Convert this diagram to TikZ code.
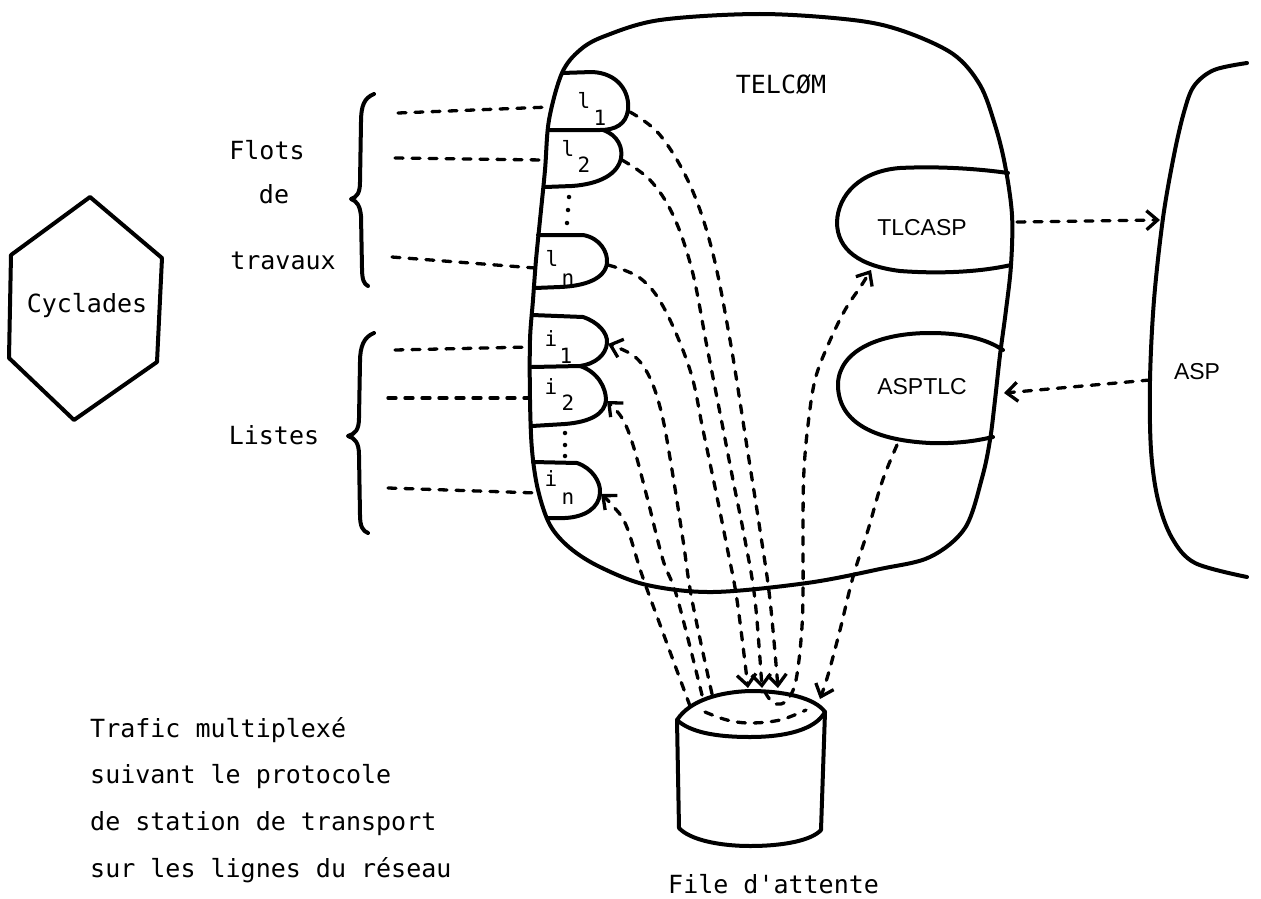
\documentclass[tikz,border=0pt]{standalone}
\usepackage{fontspec}
\newfontfamily\typew{DejaVu Sans Mono}
\newfontfamily\helv{Liberation Sans}
\usetikzlibrary{arrows.meta}
\begin{document}
\begin{tikzpicture}[x=1pt,y=-1pt,
  outl/.style={line width=4pt,line join=round,line cap=round},
  dl/.style={line width=3.3pt,line cap=round,dash pattern=on 8pt off 9pt},
  barb/.style={-{Straight Barb[length=11pt,width=19pt,line width=3.3pt]}},
  mono/.style={font=\typew\fontsize{25}{30}\selectfont,inner sep=0pt},
  lab/.style={font=\typew\fontsize{21}{25}\selectfont,inner sep=0pt},
  sans/.style={font=\helv\fontsize{23}{28}\selectfont,inner sep=0pt},
  dotm/.style={circle,fill,inner sep=0pt,minimum size=4.5pt}]
\useasboundingbox (0,0) rectangle (1261,899);

% ---------- Cyclades ----------
\draw[outl] (90,197) -- (162,258) -- (157,362) -- (74,420) -- (9,358) -- (11,255) -- cycle;
\node[mono] (cyc) at (87,306) {Cyclades};

% ---------- left labels and braces ----------
\node[mono] (flots) at (267,150) {Flots};
\node[mono] (de) at (274,194) {de};
\node[mono] (trav) at (283,261) {travaux};
\node[mono] (listes) at (274,435) {Listes};
\draw[outl] (374,94) .. controls (364,98) and (361,106) .. (361,122) -- (360,182)
  .. controls (360,193) and (357,197) .. (351,199) .. controls (357,201) and (360,206) .. (361,216)
  -- (362,268) .. controls (362,280) and (364,284) .. (368,286);
\draw[outl] (374,333) .. controls (364,337) and (360,346) .. (360,362) -- (359,418)
  .. controls (359,430) and (355,434) .. (348,436) .. controls (355,438) and (359,443) .. (359,455)
  -- (360,515) .. controls (360,527) and (363,531) .. (368,533);

% ---------- TELCOM ----------
\draw[outl] plot[smooth cycle,tension=0.55] coordinates {
 (562,73) (580,50) (605,36) (660,20) (760,14) (853,20) (903,31) (953,54) (980,85)
 (995,125) (1005,165) (1012,215) (1011,265) (1006,310) (1000,355) (995,400) (990,440)
 (982,478) (965,528) (930,557) (880,569) (807,583) (713,592) (647,585) (600,567)
 (570,548) (550,525) (538,490) (532,450) (530,400) (530,340) (533,300) (536,260)
 (540,220) (545,170) (549,120)};
\node[mono] (telcom) at (781,84) {TELCØM};

% l blobs
\draw[outl] (562,73) -- (592,72) .. controls (618,73) and (630,92) .. (628,110)
  .. controls (626,124) and (616,130) .. (600,130) -- (548,130);
\draw[outl] (603,130) .. controls (618,135) and (623,148) .. (621,158)
  .. controls (618,174) and (600,184) .. (572,186) -- (545,187);
\draw[outl] (538,235) -- (583,235) .. controls (600,238) and (608,252) .. (607,263)
  .. controls (605,279) and (585,286) .. (560,287) -- (535,288);
\node[lab] (l1a) at (584,100) {l}; \node[lab] (l1b) at (600,118) {1};
\node[lab] (l2a) at (568,148) {l}; \node[lab] (l2b) at (584,165) {2};
\node[lab] (lna) at (552,258) {l}; \node[lab] (lnb) at (568,280) {n};
\node[dotm] (dl1) at (569,197) {}; \node[dotm] (dl2) at (568,210) {}; \node[dotm] (dl3) at (567,223) {};

% i blobs
\draw[outl] (532,315) -- (583,317) .. controls (598,322) and (608,333) .. (607,343)
  .. controls (606,355) and (595,364) .. (580,366) -- (532,367);
\draw[outl] (580,366) .. controls (598,372) and (606,388) .. (606,400)
  .. controls (605,414) and (590,422) .. (565,424) -- (532,426);
\draw[outl] (533,462) -- (577,463) .. controls (592,468) and (601,482) .. (600,493)
  .. controls (599,508) and (585,517) .. (565,518) -- (547,518);
\node[lab] (i1a) at (551,339) {i}; \node[lab] (i1b) at (566,356) {1};
\node[lab] (i2a) at (551,387) {i}; \node[lab] (i2b) at (568,403) {2};
\node[lab] (ina) at (551,479) {i}; \node[lab] (inb) at (568,499) {n};
\node[dotm] (di1) at (565,433) {}; \node[dotm] (di2) at (565,445) {}; \node[dotm] (di3) at (565,456) {};

% TLCASP / ASPTLC
\draw[outl] (1008,173) .. controls (980,169) and (940,166) .. (900,168)
  .. controls (860,171) and (838,195) .. (837,222) .. controls (837,250) and (860,266) .. (900,271)
  .. controls (940,274) and (980,272) .. (1011,265);
\draw[outl] (1003,350) .. controls (985,338) and (960,333) .. (930,333)
  .. controls (880,333) and (840,350) .. (838,383) .. controls (837,420) and (870,440) .. (930,443)
  .. controls (960,444) and (980,440) .. (993,437);
\node[sans] (tlcasp) at (922,228) {TLCASP};
\node[sans] (asptlc) at (922,387) {ASPTLC};

% ---------- ASP ----------
\draw[outl] plot[smooth,tension=0.55] coordinates {(1247,63) (1214,70) (1194,86) (1184,112)
 (1174,155) (1163,218) (1154,300) (1150,380) (1151,450) (1158,500) (1172,538) (1195,563) (1247,577)};
\node[sans] (asp) at (1197,372) {ASP};

% ---------- File d'attente (cylinder) ----------
\draw[outl] (677,720) .. controls (690,700) and (720,692) .. (750,691)
  .. controls (785,691) and (815,698) .. (825,712)
  .. controls (815,730) and (785,737) .. (750,737) .. controls (715,737) and (690,732) .. (677,720) -- cycle;
\draw[outl] (677,720) -- (679,828) .. controls (690,840) and (720,846) .. (750,846)
  .. controls (785,846) and (812,840) .. (821,830) -- (825,712);
\node[mono,anchor=base west] (file) at (668,893) {File d'attente};

% ---------- bottom-left text ----------
\node[mono,anchor=base west] (t1) at (90,737) {Trafic multiplexé};
\node[mono,anchor=base west] (t2) at (90,783) {suivant le protocole};
\node[mono,anchor=base west] (t3) at (90,830) {de station de transport};
\node[mono,anchor=base west] (t4) at (90,877) {sur les lignes du réseau};

% ---------- coordinates for connectors ----------
\coordinate (sl1) at (398,113); \coordinate (el1) at (550,107);
\coordinate (sl2) at (395,158); \coordinate (el2) at (543,160);
\coordinate (sln) at (392,257); \coordinate (eln) at (535,268);
\coordinate (si1) at (395,350); \coordinate (ei1) at (530,347);
\coordinate (si2) at (388,398); \coordinate (ei2) at (530,398);
\coordinate (sin) at (388,488); \coordinate (ein) at (537,493);
\coordinate (l1r) at (630,112); \coordinate (l2r) at (622,160); \coordinate (lnr) at (608,265);
\coordinate (i1r) at (608,344); \coordinate (i2r) at (607,401); \coordinate (inr) at (601,494);
\coordinate (cy1) at (778,688); \coordinate (cy2) at (762,688); \coordinate (cy3) at (748,688);
\coordinate (cyi1) at (712,694); \coordinate (cyi2) at (702,695); \coordinate (cyin) at (690,706);
\coordinate (tlcb) at (871,270); \coordinate (cyt) at (765,692);
\coordinate (aspb) at (897,445); \coordinate (cyr) at (820,699);
\coordinate (tlcr) at (1017,222); \coordinate (aspa) at (1160,220);
\coordinate (aspc) at (1150,380); \coordinate (aspd) at (1004,393);

% incoming flows
\draw[dl] (sl1) -- (el1);
\draw[dl] (sl2) -- (el2);
\draw[dl] (sln) -- (eln);
\draw[dl] (si1) -- (ei1);
\draw[dl] (si2) -- (ei2);
\draw[dl] (sin) -- (ein);

% l -> file
\draw[dl,barb] plot[smooth,tension=0.6] coordinates {(l1r) (660,135) (690,185) (712,250) (730,340) (747,447) (760,530) (770,600) (cy1)};
\draw[dl,barb] plot[smooth,tension=0.6] coordinates {(l2r) (650,180) (673,215) (692,270) (707,347) (720,413) (733,480) (745,540) (755,600) (cy2)};
\draw[dl,barb] plot[smooth,tension=0.6] coordinates {(lnr) (640,278) (664,308) (690,370) (703,430) (717,497) (727,547) (737,600) (cy3)};

% file -> i
\draw[dl,barb] plot[smooth,tension=0.6] coordinates {(cyi1) (692,600) (683,540) (672,470) (662,415) (650,378) (634,356) (i1r)};
\draw[dl,barb] plot[smooth,tension=0.6] coordinates {(cyi2) (677,597) (663,560) (647,497) (633,445) (622,418) (i2r)};
\draw[dl,barb] plot[smooth,tension=0.6] coordinates {(cyin) (662,630) (642,575) (626,525) (612,505) (inr)};

% file -> TLCASP
\draw[dl,barb] plot[smooth,tension=0.6] coordinates {(cyt) (772,702) (781,704) (789,698) (796,680) (801,640) (803,597) (803,520) (804,470) (808,425) (815,380) (828,345) (845,310) (861,286) (tlcb)};
% ASPTLC -> file
\draw[dl,barb] plot[smooth,tension=0.6] coordinates {(aspb) (882,482) (868,530) (853,577) (840,630) (828,675) (cyr)};
% dashed curve on the lid
\draw[dl] plot[smooth,tension=0.6] coordinates {(705,712) (727,720) (750,723) (780,720) (806,710)};

% TLCASP <-> ASP
\draw[dl,barb] (tlcr) -- (aspa);
\draw[dl,barb] (aspc) -- (aspd);
\end{tikzpicture}
\end{document}
